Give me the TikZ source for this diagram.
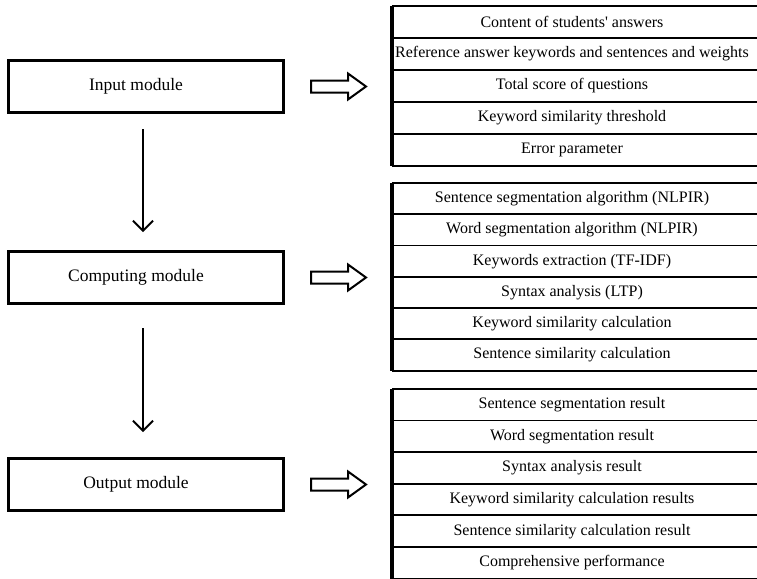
\documentclass[tikz,border=0pt]{standalone}
\usepackage{fontspec}
\setmainfont{Liberation Serif}
\usetikzlibrary{arrows.meta}
\begin{document}
\begin{tikzpicture}[x=1pt,y=-1pt,
  module/.style={draw,line width=3pt,minimum width=275pt,minimum height=52pt,inner sep=0pt},
  modtext/.style={font=\fontsize{17.5}{20}\selectfont,xshift=-10pt},
  tabrow/.style={minimum width=360pt,minimum height=#1,inner sep=0pt,
    font=\fontsize{16}{19}\selectfont},
  rule/.style={line width=1.8pt},
  leftrule/.style={line width=3.4pt},
  varrow/.style={line width=1.4pt,-{Straight Barb[length=10pt,width=20pt,line width=1.9pt]}},
  hollow/.style={draw,line width=2pt,line join=miter}
]
\useasboundingbox (0,0) rectangle (757,578);
\coordinate (R) at (765,0);

% modules
\node[module,label={[modtext]center:Input module}] (in) at (146,86.5) {};
\node[module,label={[modtext]center:Computing module}] (cm) at (146,277.5) {};
\node[module,label={[modtext]center:Output module}] (om) at (146,484.5) {};

% vertical arrows
\draw[varrow,shorten <=15pt,shorten >=18pt] ([xshift=-3pt]in.south) -- ([xshift=-3pt]cm.north);
\draw[varrow,shorten <=23pt,shorten >=25pt] ([xshift=-3pt]cm.south) -- ([xshift=-3pt]om.north);

% hollow arrows
\foreach \m in {in,cm,om}{
  \coordinate (h\m) at (338,0 |- \m.center);
  \draw[hollow] (h\m) ++(-27,-6) -- ++(37,0) -- ++(0,-7) -- ++(18,13) -- ++(-18,13)
    -- ++(0,-7) -- ++(-37,0) -- cycle;
}

% top table
\foreach \t [count=\i] in {{Content of students\textquotesingle\ answers},
  {Reference answer keywords and sentences and weights},
  {Total score of questions},
  {Keyword similarity threshold},
  {Error parameter}}
  \node[tabrow=32pt] (a\i) at (572,{6+32*(\i-0.5)}) {\t};
\foreach \i in {1,...,5}
  \draw[rule] (a\i.north west) -- (a\i.north west -| R);
\draw[rule] (a5.south west) -- (a5.south west -| R);
\draw[leftrule] (a1.north west) -- (a5.south west);

% middle table
\foreach \t [count=\i] in {{Sentence segmentation algorithm (NLPIR)},
  {Word segmentation algorithm (NLPIR)},
  {Keywords extraction (TF-IDF)},
  {Syntax analysis (LTP)},
  {Keyword similarity calculation},
  {Sentence similarity calculation}}
  \node[tabrow=31.3pt] (b\i) at (572,{183+31.3*(\i-0.5)}) {\t};
\foreach \i in {1,...,6}
  \draw[rule] (b\i.north west) -- (b\i.north west -| R);
\draw[rule] (b6.south west) -- (b6.south west -| R);
\draw[leftrule] (b1.north west) -- (b6.south west);

% bottom table
\foreach \t [count=\i] in {{Sentence segmentation result},
  {Word segmentation result},
  {Syntax analysis result},
  {Keyword similarity calculation results},
  {Sentence similarity calculation result},
  {Comprehensive performance}}
  \node[tabrow=31.6pt] (c\i) at (572,{389+31.6*(\i-0.5)}) {\t};
\foreach \i in {1,...,6}
  \draw[rule] (c\i.north west) -- (c\i.north west -| R);
\draw[rule] (c6.south west) -- (c6.south west -| R);
\draw[leftrule] (c1.north west) -- (c6.south west);
\end{tikzpicture}
\end{document}
